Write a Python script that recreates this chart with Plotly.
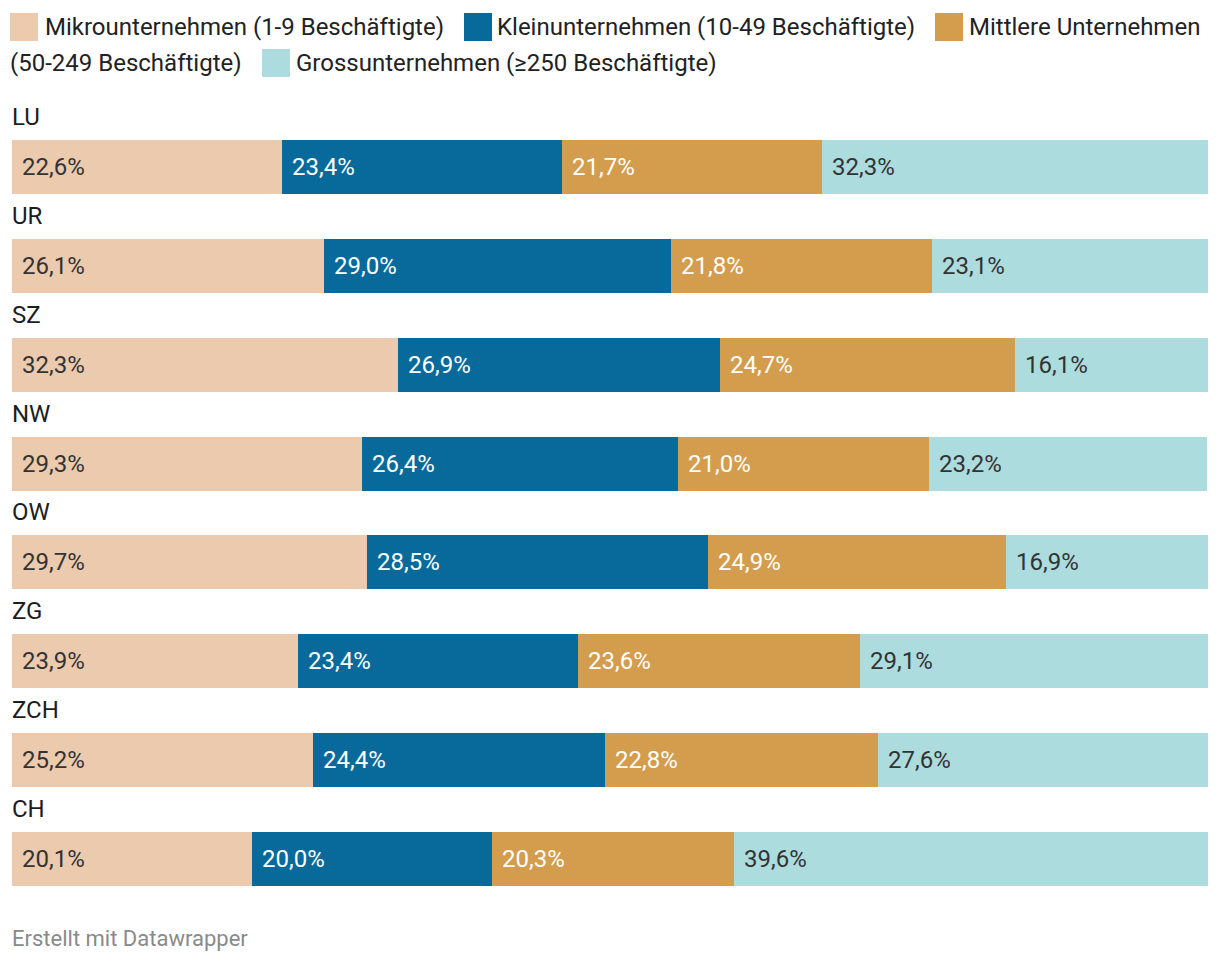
import plotly.graph_objects as go

regions = ["LU", "UR", "SZ", "NW", "OW", "ZG", "ZCH", "CH"]
mikro = [22.6, 26.1, 32.3, 29.3, 29.7, 23.9, 25.2, 20.1]
klein = [23.4, 29.0, 26.9, 26.4, 28.5, 23.4, 24.4, 20.0]
mittel = [21.7, 21.8, 24.7, 21.0, 24.9, 23.6, 22.8, 20.3]
gross = [32.3, 23.1, 16.1, 23.2, 16.9, 29.1, 27.6, 39.6]

series_names = [
    "Mikrounternehmen (1-9 Beschäftigte)",
    "Kleinunternehmen (10-49 Beschäftigte)",
    "Mittlere Unternehmen (50-249 Beschäftigte)",
    "Grossunternehmen (≥250 Beschäftigte)",
]
series_values = [mikro, klein, mittel, gross]
colors = ["#ebcaae", "#076a9b", "#d49c4d", "#acdcde"]
label_colors = ["#333333", "#ffffff", "#ffffff", "#333333"]

# page body has an 8px margin; figure coordinates are page coords minus OFF
OFF = 8
W, H = 1212, 954
ML, MR, MT, MB = 12 - OFF, 12, 140 - OFF, 76
PW = W - ML - MR
PH = H - MT - MB
FONT = "Roboto"

ypos = list(range(len(regions)))
BW = 0.546

fig = go.Figure()
for name, vals, col in zip(series_names, series_values, colors):
    fig.add_trace(go.Bar(
        y=ypos, x=vals, name=name, orientation="h", width=BW,
        marker=dict(color=col, line=dict(width=0)),
        hoverinfo="skip", showlegend=False,
    ))

annotations = []
for i in range(len(regions)):
    base = 0.0
    for vals, lc in zip(series_values, label_colors):
        v = vals[i]
        annotations.append(dict(
            x=base, y=i, xref="x", yref="y", xanchor="left", yanchor="middle",
            xshift=8, text=f"{v:.1f}".replace(".", ",") + "%", showarrow=False,
            font=dict(family=FONT, size=24, color=lc),
        ))
        base += v
    annotations.append(dict(
        x=0, y=i, xref="x", yref="y", xanchor="left", yanchor="middle",
        xshift=-2, yshift=50, text=regions[i], showarrow=False,
        font=dict(family=FONT, size=24, color="#1d1d1d"),
    ))


def px2x(px):
    # px given in page coordinates
    return (px - OFF - ML) / PW


def px2y(py):
    return (H - MB - (py - OFF)) / PH


legend_items = [
    (10, 27, 0),
    (464, 27, 1),
    (935, 27, 2),
    (262, 63, 3),
]
legend_texts = [
    (43, 27, "Mikrounternehmen (1-9 Beschäftigte)"),
    (495, 27, "Kleinunternehmen (10-49 Beschäftigte)"),
    (967, 27, "Mittlere Unternehmen"),
    (8, 63, "(50-249 Beschäftigte)"),
    (294, 63, "Grossunternehmen (≥250 Beschäftigte)"),
]
shapes = []
for sx, sy, ci in legend_items:
    shapes.append(dict(
        type="rect", xref="paper", yref="paper",
        x0=px2x(sx), x1=px2x(sx + 28), y0=px2y(sy - 14), y1=px2y(sy + 14),
        fillcolor=colors[ci], line=dict(width=0), layer="above",
    ))
for tx, ty, t in legend_texts:
    annotations.append(dict(
        x=px2x(tx), y=px2y(ty), xref="paper", yref="paper",
        xanchor="left", yanchor="middle", text=t, showarrow=False,
        font=dict(family=FONT, size=24, color="#222222"),
    ))

annotations.append(dict(
    x=px2x(10), y=px2y(938), xref="paper", yref="paper",
    xanchor="left", yanchor="middle", text="Erstellt mit Datawrapper",
    showarrow=False, font=dict(family=FONT, size=22, color="#8a8a8a"),
))

fig.update_layout(
    width=W, height=H, barmode="stack",
    margin=dict(l=ML, r=MR, t=MT, b=MB),
    paper_bgcolor="white", plot_bgcolor="white",
    xaxis=dict(range=[0, 100], visible=False, fixedrange=True),
    yaxis=dict(range=[len(regions) - 1 + BW / 2, -BW / 2], visible=False, fixedrange=True),
    bargap=0, annotations=annotations, shapes=shapes,
    font=dict(family=FONT), showlegend=False,
)

fig.write_html("out.html", config={"displayModeBar": False})
